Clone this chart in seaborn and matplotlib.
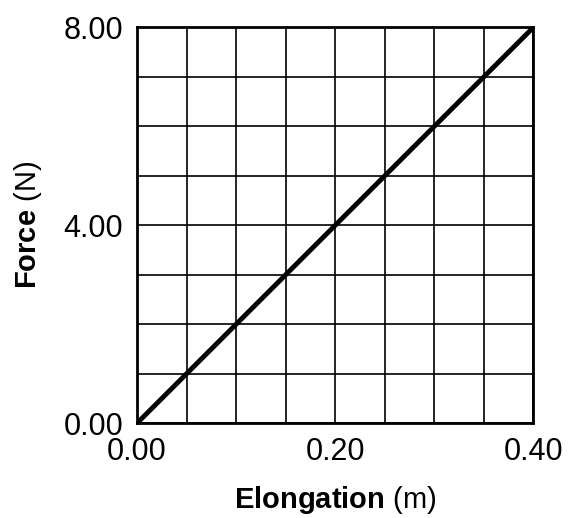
import seaborn as sns
import pandas as pd
import matplotlib.pyplot as plt
import numpy as np

# data: straight line through origin
elongation = [0.00, 0.40]
force = [0.00, 8.00]

x_ticks = [0.00, 0.20, 0.40]
y_ticks = [0.00, 4.00, 8.00]

sns.set_style("white")
plt.rcParams["font.family"] = ["Liberation Sans", "DejaVu Sans"]
plt.rcParams["mathtext.fontset"] = "custom"
plt.rcParams["mathtext.rm"] = "Liberation Sans"
plt.rcParams["mathtext.bf"] = "Liberation Sans:bold"
plt.rcParams["text.color"] = "black"
plt.rcParams["axes.labelcolor"] = "black"
plt.rcParams["xtick.color"] = "black"
plt.rcParams["ytick.color"] = "black"

df = pd.DataFrame({"Elongation": elongation, "Force": force})

fig = plt.figure(figsize=(5.71, 5.18), dpi=100)
ax = fig.add_axes([0.240, 0.183, 0.694, 0.764])

sns.lineplot(data=df, x="Elongation", y="Force", color="black", linewidth=3.5, ax=ax)

ax.set_xlim(0, 0.40)
ax.set_ylim(0, 8.00)

# minor grid every 0.05 m and 1 N
ax.set_xticks(np.arange(0, 0.401, 0.05), minor=True)
ax.set_yticks(np.arange(0, 8.01, 1.0), minor=True)
ax.grid(which="minor", color="black", linewidth=1.2)
ax.grid(which="major", color="black", linewidth=1.2)

ax.set_xticks(x_ticks)
ax.set_yticks(y_ticks)
ax.set_xticklabels([f"{v:.2f}" for v in x_ticks])
ax.set_yticklabels([f"{v:.2f}" for v in y_ticks])
ax.tick_params(axis="both", which="major", labelsize=22, length=8, width=1.5,
               direction="out", color="black", labelcolor="black", pad=2)
ax.tick_params(axis="both", which="minor", length=0)

for s in ax.spines.values():
    s.set_color("black")
    s.set_linewidth(2)

ax.set_xlabel(r"$\bf{Elongation}$ (m)", fontsize=21, labelpad=12, color="black")
ax.set_ylabel(r"$\bf{Force}$ (N)", fontsize=21, labelpad=14, color="black")

fig.savefig("out.png", dpi=100)
